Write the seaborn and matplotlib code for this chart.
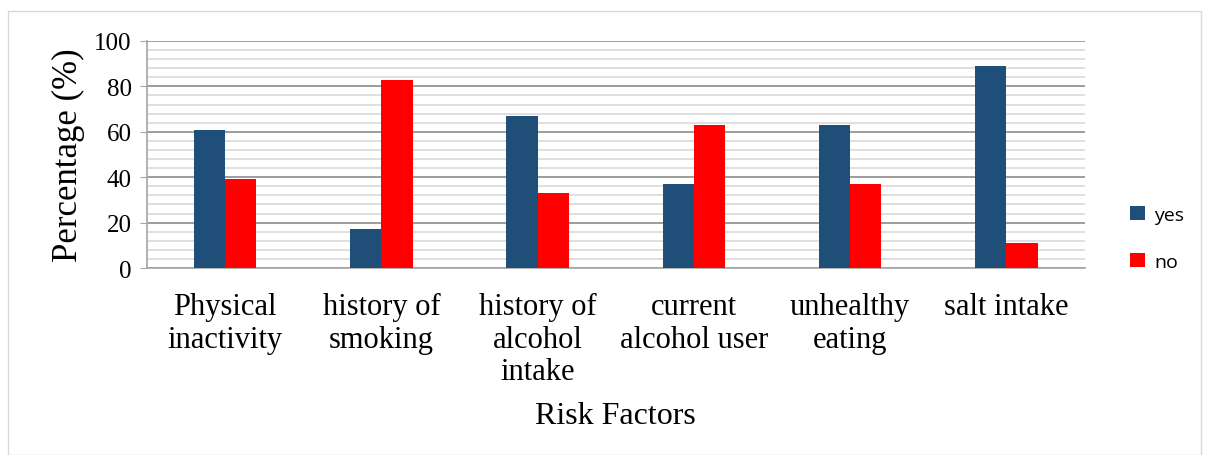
import seaborn as sns
import matplotlib.pyplot as plt
import pandas as pd
from matplotlib.patches import Rectangle
from matplotlib.ticker import MultipleLocator

# Data
categories = ['Physical\ninactivity', 'history of\nsmoking', 'history of\nalcohol\nintake',
              'current\nalcohol user', 'unhealthy\neating', 'salt intake']
yes_values = [61, 17, 67, 37, 63, 89]
no_values = [39, 83, 33, 63, 37, 11]
series = ['yes', 'no']

df = pd.DataFrame({
    'Risk Factors': categories * 2,
    'Percentage': yes_values + no_values,
    'Answer': ['yes'] * len(categories) + ['no'] * len(categories),
})

sns.set_style('white')
plt.rcParams['font.family'] = ['Liberation Serif', 'DejaVu Serif']
plt.rcParams['text.color'] = 'black'
plt.rcParams['axes.labelcolor'] = 'black'
plt.rcParams['xtick.color'] = 'black'
plt.rcParams['ytick.color'] = 'black'

fig = plt.figure(figsize=(12.05, 4.56), dpi=100)
ax = fig.add_axes([0.122, 0.41, 0.778, 0.498])

sns.barplot(data=df, x='Risk Factors', y='Percentage', hue='Answer', hue_order=series,
            palette={'yes': '#1F4E79', 'no': '#FF0000'}, width=0.4, saturation=1,
            linewidth=0, ax=ax, zorder=3)

ax.set_ylim(0, 100)
ax.set_xlim(-0.5, len(categories) - 0.5)
ax.yaxis.set_major_locator(MultipleLocator(20))
ax.yaxis.set_minor_locator(MultipleLocator(4))
ax.grid(which='major', axis='y', color='#8c8c8c', linewidth=1.2, zorder=0)
ax.grid(which='minor', axis='y', color='#d9d9d9', linewidth=1.2, zorder=0)
ax.set_axisbelow(True)

for s in ['top', 'right']:
    ax.spines[s].set_visible(False)
for s in ['left', 'bottom']:
    ax.spines[s].set_color('#a6a6a6')
    ax.spines[s].set_linewidth(1.2)

ax.tick_params(axis='y', which='major', left=True, length=5, color='#a6a6a6',
               labelsize=18, pad=6)
ax.tick_params(axis='y', which='minor', left=False)
ax.tick_params(axis='x', bottom=False, labelsize=22, pad=14)
for lbl in ax.get_xticklabels():
    lbl.set_verticalalignment('top')
    lbl.set_linespacing(1.15)

ax.set_xlabel('Risk Factors', fontsize=23, labelpad=11)
ax.set_ylabel('Percentage (%)', fontsize=25, labelpad=7)

leg = ax.legend(loc='center left', bbox_to_anchor=(1.03, 0.13), frameon=False,
                prop={'family': ['Open Sans', 'DejaVu Sans'], 'size': 14},
                handlelength=0.75, handleheight=0.75, labelspacing=1.5, handletextpad=0.5)

fig.patches.append(Rectangle((8 / 1205, 0.0), 1 - 12 / 1205, 1 - 12 / 456,
                             transform=fig.transFigure, fill=False,
                             edgecolor='#d9d9d9', linewidth=1.0))

plt.savefig('out.png', dpi=100)
